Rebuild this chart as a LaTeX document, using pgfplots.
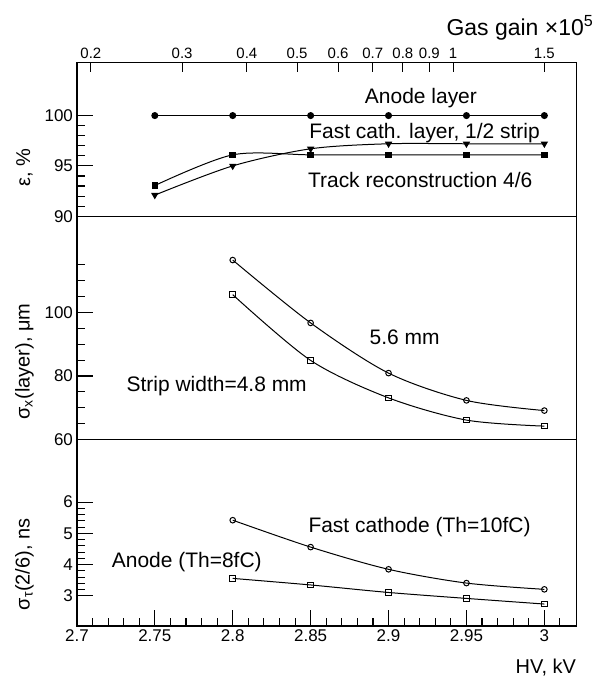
\documentclass[border=0pt]{standalone}
\usepackage{fontspec}
\setmainfont{Liberation Sans}
\usepackage{pgfplots}
\pgfplotsset{compat=1.18}
\tikzset{txt/.style={font=\fontsize{21}{21}\selectfont}, tk/.style={black, line width=1.1pt}}
\pgfplotsset{every tick/.append style={black, line width=1.1pt}}
\begin{document}
\begin{tikzpicture}
\path (0,0) rectangle (598pt,679pt);
\pgfplotsset{
 panel/.style={scale only axis, width=500pt, xmin=2.7, xmax=3.0205, anchor=south west,
   line width=1.3pt,
   tick align=inside, ytick pos=left, xtick pos=bottom,
   major tick length=16pt, minor tick length=8pt,
   tick label style={font=\fontsize{17}{17}\selectfont},
   /pgf/number format/assume math mode=true,
   ylabel style={font=\fontsize{20}{20}\selectfont, at={(axis description cs:-0.105,#1)}, anchor=center},
   clip=false},
 curve/.style={black, line width=1pt, smooth},
}
% ---------- top panel: efficiency ----------
\begin{axis}[panel=0.315, at={(77pt,462.5pt)}, height=154.2pt, ymin=90, ymax=105.3,
  ytick={90,95,100}, minor ytick={91,92,93,94,96,97,98,99}, xtick=\empty,
  ylabel={ε, \%}]
\addplot[black, line width=1pt, mark=*, mark size=3pt] coordinates {(2.75,100)(2.8,100)(2.85,100)(2.9,100)(2.95,100)(3.0,100)};
\addplot[curve, mark=square*, mark size=2.8pt] coordinates {(2.75,93.05)(2.8,96.1)(2.85,96.1)(2.9,96.1)(2.95,96.1)(3.0,96.1)};
\addplot[curve, mark=triangle*, mark options={rotate=180}, mark size=3.3pt] coordinates {(2.75,92.1)(2.8,95.0)(2.85,96.7)(2.9,97.2)(2.95,97.2)(3.0,97.2)};
\pgfplotsinvokeforeach{95,100}{\draw[tk] (axis cs:2.7,#1) -- (axis cs:2.71026,#1);}
\pgfplotsinvokeforeach{91,92,93,94,96,97,98,99}{\draw[tk] (axis cs:2.7,#1) -- (axis cs:2.70513,#1);}
\node[txt] at (axis cs:2.9208,101.73) {Anode layer};
\node[txt] at (axis cs:2.9231,98.25) {Fast cath. layer, 1/2 strip};
\node[txt] at (axis cs:2.9203,93.62) {Track reconstruction 4/6};
\end{axis}
% ---------- top gain axis ----------
\begin{axis}[scale only axis, width=500pt, height=154.2pt, at={(77pt,462.5pt)}, anchor=south west,
  xmode=log, xmin=0.188, xmax=1.729, ymin=0, ymax=1,
  axis x line*=top, hide y axis, line width=1.3pt,
  tick align=inside, major tick length=10pt,
  xtick={0.2,0.3,0.4,0.5,0.6,0.7,0.8,0.9,1,1.5},
  xticklabels={0.2,0.3,0.4,0.5,0.6,0.7,0.8,0.9,1,1.5},
  tick label style={font=\fontsize{15}{15}\selectfont},
  clip=false]
\addplot[draw=none] coordinates {(1,0.5)};
\pgfplotsinvokeforeach{0.2,0.3,0.4,0.5,0.6,0.7,0.8,0.9,1,1.5}{\draw[tk] (axis cs:#1,1) -- (axis cs:#1,0.9351);}
\node[anchor=east, font=\fontsize{23}{23}\selectfont] at (axis description cs:1.042,1.222) {Gas gain ×10\textsuperscript{5}};
\end{axis}
% ---------- middle panel: spatial resolution ----------
\begin{axis}[panel=0.349, at={(77pt,239pt)}, height=223.5pt, ymin=60, ymax=130.3,
  ytick={60,80,100}, minor ytick={65,70,75,85,90,95,105,110,115}, xtick=\empty,
  ylabel={σ\textsubscript{x}(layer), μm}]
\addplot[curve, mark=o, mark size=2.8pt] coordinates {(2.8,116.5)(2.85,96.7)(2.9,80.9)(2.95,72.3)(3.0,69.1)};
\addplot[curve, mark=square, mark size=2.8pt] coordinates {(2.8,105.6)(2.85,84.9)(2.9,73.1)(2.95,66.1)(3.0,64.2)};
\pgfplotsinvokeforeach{80,100}{\draw[tk] (axis cs:2.7,#1) -- (axis cs:2.71026,#1);}
\pgfplotsinvokeforeach{65,70,75,85,90,95,105,110,115}{\draw[tk] (axis cs:2.7,#1) -- (axis cs:2.70513,#1);}
\node[txt] at (axis cs:2.9103,92.1) {5.6 mm};
\node[txt] at (axis cs:2.7897,76.8) {Strip width=4.8 mm};
\end{axis}
% ---------- bottom panel: time resolution ----------
\begin{axis}[panel=0.33, at={(77pt,52.3pt)}, height=186.7pt, ymin=2.04, ymax=8.0,
  ytick={3,4,5,6}, minor ytick={3.2,3.4,3.6,3.8,4.2,4.4,4.6,4.8,5.2,5.4,5.6,5.8},
  xtick={2.7,2.75,2.8,2.85,2.9,2.95,3.0},
  xticklabels={2.7,2.75,2.8,2.85,2.9,2.95,3},
  minor xtick={2.71,2.72,2.73,2.74,2.76,2.77,2.78,2.79,2.81,2.82,2.83,2.84,2.86,2.87,2.88,2.89,2.91,2.92,2.93,2.94,2.96,2.97,2.98,2.99,3.01},
  ylabel={σ\textsubscript{τ}(2/6), ns}]
\addplot[curve, mark=o, mark size=2.8pt] coordinates {(2.8,5.42)(2.85,4.56)(2.9,3.85)(2.95,3.41)(3.0,3.21)};
\addplot[curve, mark=square, mark size=2.8pt] coordinates {(2.8,3.56)(2.85,3.35)(2.9,3.11)(2.95,2.92)(3.0,2.74)};
\pgfplotsinvokeforeach{3,4,5,6}{\draw[tk] (axis cs:2.7,#1) -- (axis cs:2.71026,#1);}
\pgfplotsinvokeforeach{3.2,3.4,3.6,3.8,4.2,4.4,4.6,4.8,5.2,5.4,5.6,5.8}{\draw[tk] (axis cs:2.7,#1) -- (axis cs:2.70513,#1);}
\pgfplotsinvokeforeach{2.75,2.8,2.85,2.9,2.95,3.0}{\draw[tk] (axis cs:#1,2.04) -- (axis cs:#1,2.5507);}
\pgfplotsinvokeforeach{2.71,2.72,2.73,2.74,2.76,2.77,2.78,2.79,2.81,2.82,2.83,2.84,2.86,2.87,2.88,2.89,2.91,2.92,2.93,2.94,2.96,2.97,2.98,2.99,3.01}{\draw[tk] (axis cs:#1,2.04) -- (axis cs:#1,2.2953);}
\node[txt] at (axis cs:2.9199,5.19) {Fast cathode (Th=10fC)};
\node[txt] at (axis cs:2.7705,4.08) {Anode (Th=8fC)};
\node[font=\fontsize{20}{20}\selectfont] at (axis description cs:0.939,-0.221) {HV, kV};
\end{axis}
\end{tikzpicture}
\end{document}
